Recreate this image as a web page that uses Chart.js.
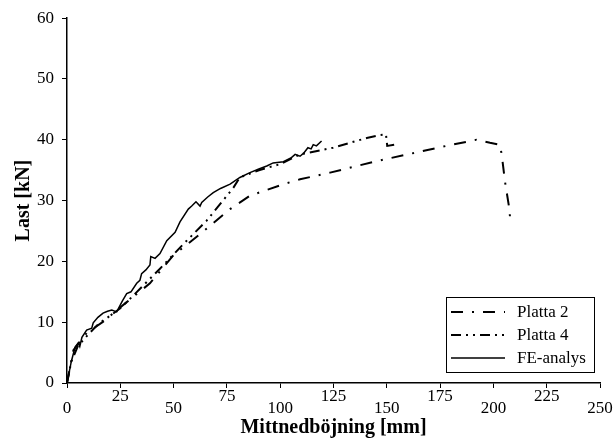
<!DOCTYPE html>
<html>
<head>
<meta charset="utf-8">
<script src="https://cdn.jsdelivr.net/npm/chart.js@4.4.1/dist/chart.umd.min.js"></script>
<style>
  html, body { margin: 0; padding: 0; background: #fff; }
  #wrap { width: 614px; height: 440px; }
</style>
</head>
<body>
<div id="wrap"><canvas id="chart" width="614" height="440"></canvas></div>
<script>
// nedböjning [mm] och last [kN] per serie
const platta2X = [0, 3, 9.2, 17, 28, 38.9, 49.9, 62.4, 76.5, 85.8, 101.5, 109.3, 123.4, 145.3, 178, 192, 198.4, 203, 203.9, 205.4, 206.5, 207.5, 207.8, 209.3];
const platta2Y = [0, 5.4, 8.2, 10.1, 13.3, 16.4, 21.0, 24.5, 28.6, 30.8, 32.7, 33.5, 34.6, 36.5, 39.0, 40.0, 39.5, 39.2, 37.6, 33.2, 30.8, 28.6, 27.2, 27.1];

const platta4X = [0, 2, 5, 10, 15, 20, 25, 30, 43.6, 55, 65.5, 78, 81, 90, 100, 109.3, 124.8, 140.6, 147, 149.6, 150.2, 153.8];
const platta4Y = [0, 3.5, 6.0, 8.0, 9.8, 11.0, 12.3, 14.0, 18.8, 23.0, 26.7, 32.1, 33.8, 35.0, 36.0, 37.6, 38.7, 40.3, 40.8, 40.9, 39.0, 39.2];

const feX = [0, 2, 3.8, 5.3, 6, 7, 9.2, 11.6, 12.3, 14.5, 16.9, 19, 21, 23.3, 26, 28, 30, 32.7, 34.2, 35, 37, 38.9, 39.3, 41.3, 43.6, 46.8, 50.7, 53, 56.9, 58.5, 60.5, 62.4, 63.2, 66, 68.6, 72, 76.5, 81.1, 85.8, 90, 93.7, 96.7, 101.5, 105, 107, 109.3, 111, 113, 114.5, 115.5, 117, 119.4];
const feY = [0, 3.5, 5.9, 6.6, 6.0, 7.5, 8.7, 9.0, 9.9, 10.8, 11.5, 11.8, 12.0, 11.7, 13.5, 14.7, 15.0, 16.4, 16.9, 18.0, 18.6, 19.4, 20.8, 20.5, 21.3, 23.4, 24.8, 26.5, 28.6, 29.1, 29.8, 29.1, 29.7, 30.6, 31.3, 32.0, 32.7, 33.8, 34.6, 35.2, 35.7, 36.2, 36.4, 37.0, 37.6, 37.3, 37.8, 38.7, 38.5, 39.2, 39.0, 39.8];

const seriesNames = ['Platta 2', 'Platta 4', 'FE-analys'];

const toPoints = (xs, ys) => xs.map((x, i) => ({ x: x, y: ys[i] }));

const serif = '"Liberation Serif", "Times New Roman", serif';

// x-etiketter i två rader: 25, 75, ... högre upp, 0, 50, ... lägre
const staggeredTicks = {
  id: 'staggeredTicks',
  afterDraw(chart) {
    const scale = chart.scales.x;
    const ctx = chart.ctx;
    ctx.save();
    ctx.font = '17px ' + serif;
    ctx.fillStyle = '#000';
    ctx.textAlign = 'center';
    ctx.textBaseline = 'middle';
    scale.ticks.forEach(t => {
      const px = scale.getPixelForValue(t.value);
      const py = scale.top + (t.value % 50 === 0 ? 26 : 14);
      ctx.fillText(String(t.value), px, py);
    });
    ctx.restore();
  }
};

// legend med ram, ritad nere till höger i diagrammet
const boxLegend = {
  id: 'boxLegend',
  afterDraw(chart) {
    const ctx = chart.ctx;
    const left = 446, top = 297, w = 148, h = 75;
    ctx.save();
    ctx.fillStyle = '#fff';
    ctx.fillRect(left, top, w, h);
    ctx.strokeStyle = '#000';
    ctx.lineWidth = 1;
    ctx.strokeRect(left + 0.5, top + 0.5, w, h);
    ctx.font = '17px ' + serif;
    ctx.textBaseline = 'middle';
    ctx.fillStyle = '#000';
    chart.data.datasets.forEach((ds, i) => {
      const y = top + 15 + i * 23;
      ctx.beginPath();
      ctx.setLineDash(ds.borderDash || []);
      ctx.lineWidth = ds.borderWidth;
      ctx.moveTo(451, y);
      ctx.lineTo(505, y);
      ctx.stroke();
      ctx.setLineDash([]);
      ctx.fillText(ds.label, 517, y + 1);
    });
    ctx.restore();
  }
};

new Chart(document.getElementById('chart'), {
  type: 'line',
  data: {
    datasets: [
      {
        label: seriesNames[0],
        data: toPoints(platta2X, platta2Y),
        borderColor: '#000',
        borderWidth: 2,
        borderDash: [12, 9, 2, 9],
        pointRadius: 0,
        tension: 0
      },
      {
        label: seriesNames[1],
        data: toPoints(platta4X, platta4Y),
        borderColor: '#000',
        borderWidth: 2,
        borderDash: [10, 5, 2, 5, 2, 5],
        pointRadius: 0,
        tension: 0
      },
      {
        label: seriesNames[2],
        data: toPoints(feX, feY),
        borderColor: '#000',
        borderWidth: 1.5,
        pointRadius: 0,
        tension: 0
      }
    ]
  },
  options: {
    responsive: false,
    animation: false,
    layout: { padding: { top: 16, right: 14, left: 0, bottom: 0 } },
    plugins: {
      legend: { display: false },
      tooltip: { enabled: false }
    },
    scales: {
      x: {
        type: 'linear',
        min: 0,
        max: 250,
        afterFit(scale) { scale.height = 57; },
        ticks: {
          stepSize: 25,
          autoSkip: false,
          display: false
        },
        grid: { drawOnChartArea: false, drawTicks: true, tickLength: 5, color: '#000' },
        border: { display: true, color: '#000', width: 1.5 },
        title: {
          display: true,
          text: 'Mittnedböjning [mm]',
          color: '#000',
          font: { family: serif, size: 20, weight: 'bold' },
          padding: { top: 0, bottom: 0 }
        }
      },
      y: {
        min: 0,
        max: 60,
        afterFit(scale) { scale.width = 67; },
        ticks: {
          stepSize: 10,
          padding: 8,
          color: '#000',
          font: { family: serif, size: 17 }
        },
        grid: { drawOnChartArea: false, drawTicks: true, tickLength: 5, color: '#000' },
        border: { display: true, color: '#000', width: 1.5 },
        title: {
          display: true,
          text: 'Last [kN]',
          color: '#000',
          font: { family: serif, size: 20, weight: 'bold' },
          padding: { top: 12, bottom: 0 }
        }
      }
    }
  },
  plugins: [staggeredTicks, boxLegend]
});
</script>
</body>
</html>
